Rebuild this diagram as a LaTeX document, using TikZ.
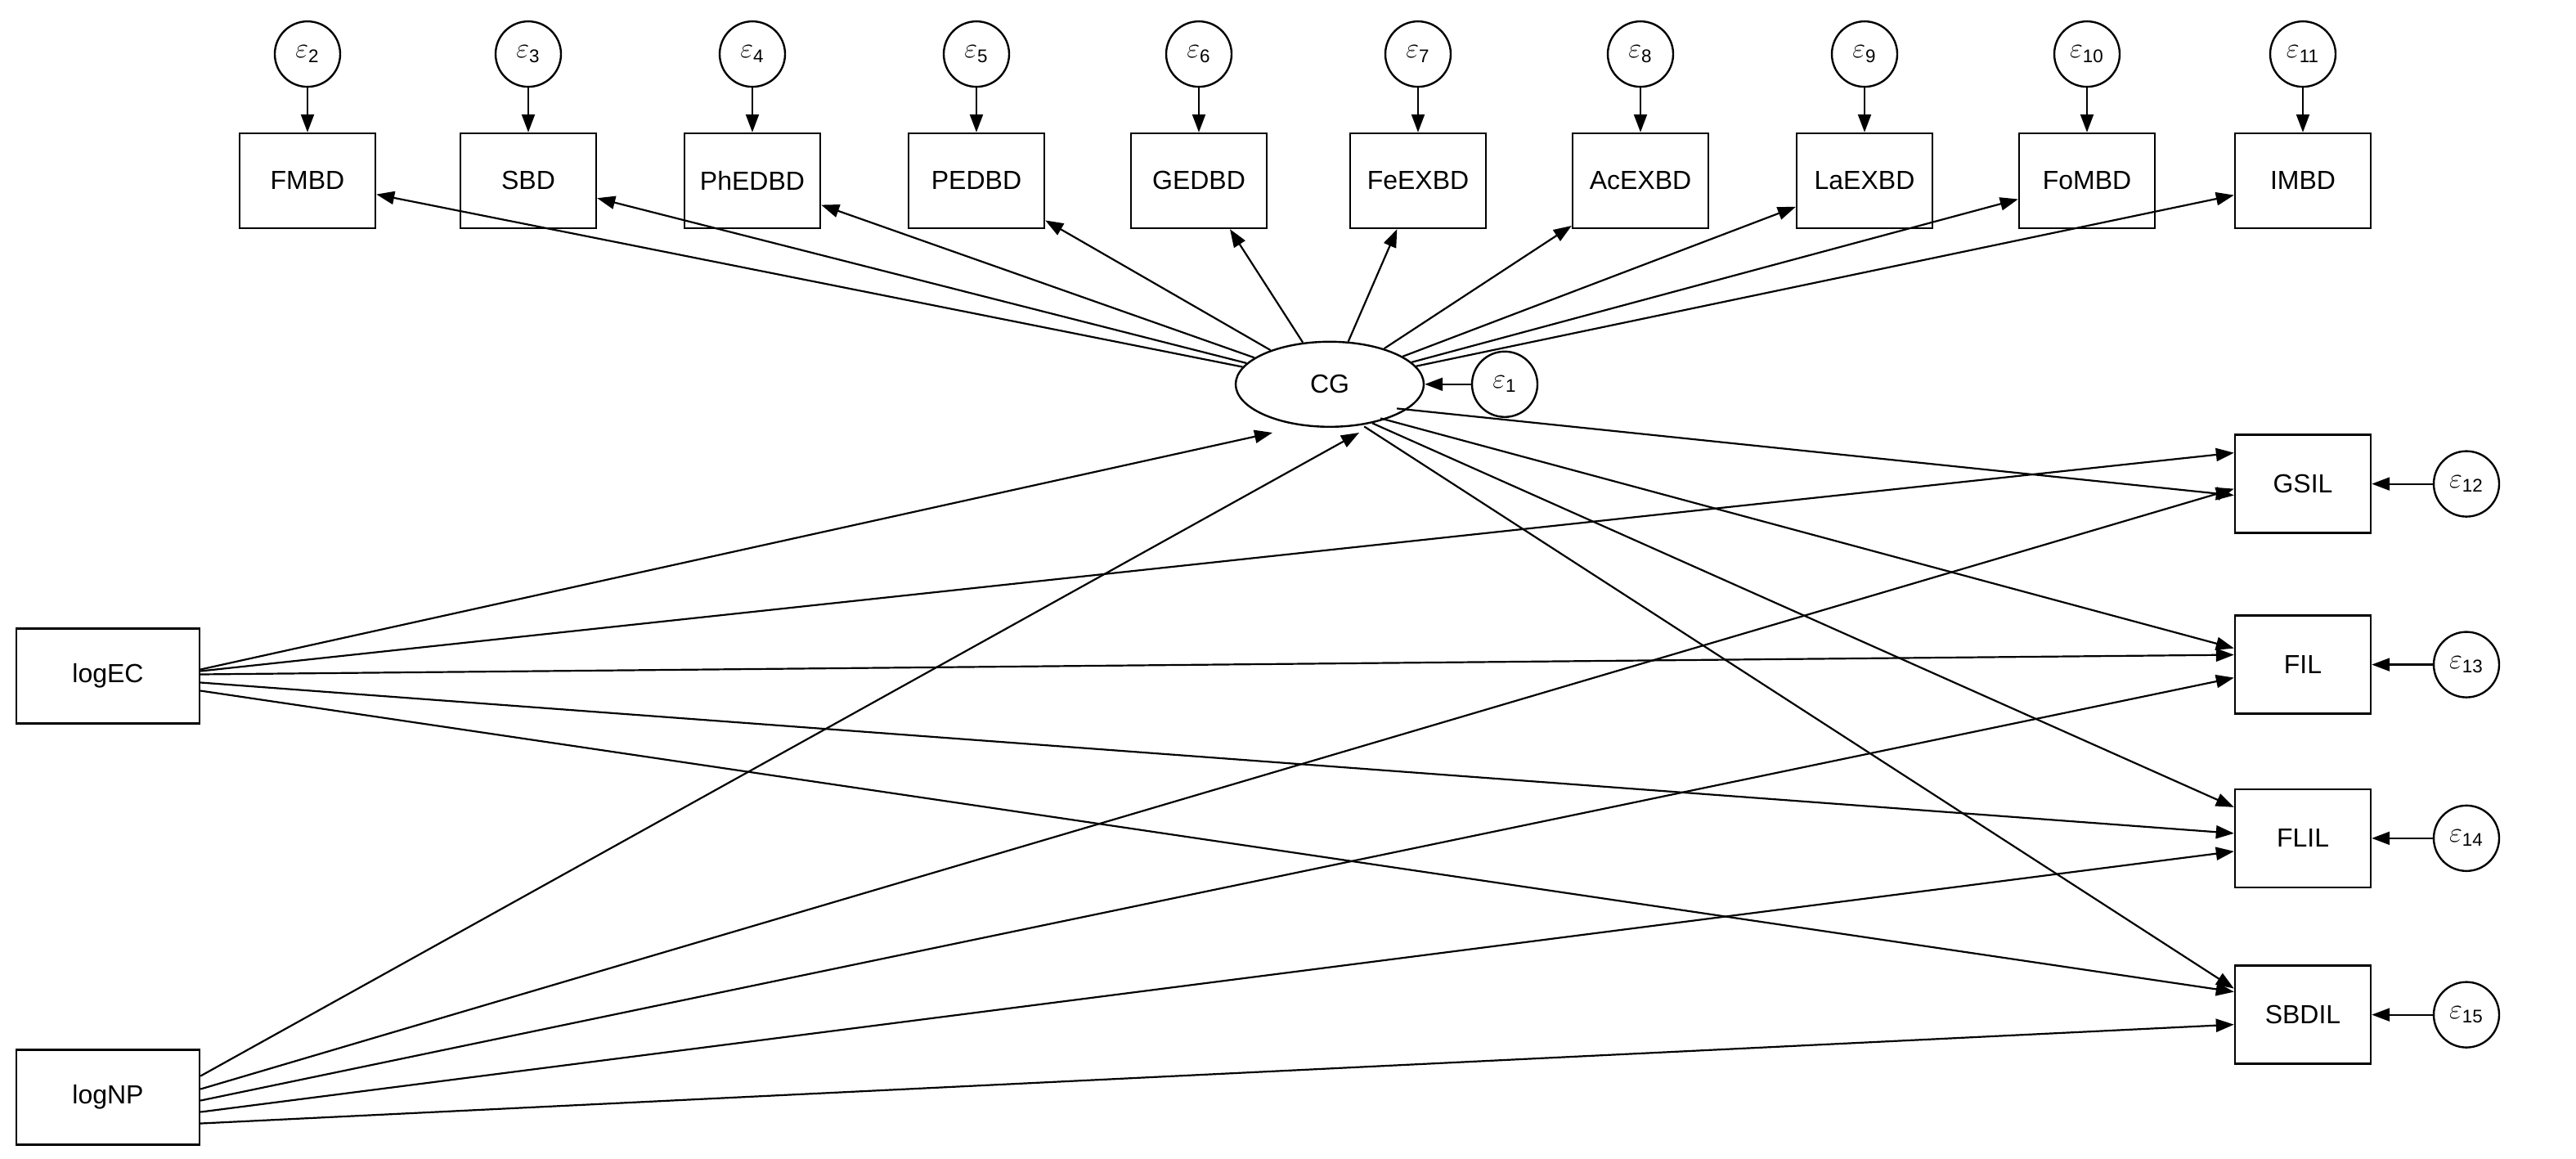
\documentclass[tikz,border=0pt]{standalone}
\usepackage{fontspec}
\setmainfont{Liberation Sans}
\usetikzlibrary{arrows.meta,shapes.geometric}
\begin{document}
\begin{tikzpicture}[x=1pt,y=-0.87pt,
 box/.style={draw,line width=1.2pt,minimum width=83pt,minimum height=58pt,font=\fontsize{16}{19}\selectfont,inner sep=0},
 err/.style={draw,circle,line width=1.2pt,minimum size=40pt,inner sep=0,font=\fontsize{16}{19}\selectfont},
 ar/.style={-{Triangle[length=11pt,width=8pt]},line width=1.1pt}]
\useasboundingbox (0,0) rectangle (1575,814);
\foreach \n/\x/\i in {FMBD/188/2,SBD/323/3,PhEDBD/460/4,PEDBD/597/5,GEDBD/733/6,FeEXBD/867/7,AcEXBD/1003/8,LaEXBD/1140/9,FoMBD/1276/10,IMBD/1408/11}{
 \node[box] (\n) at (\x,127) {\n};
 \node[err] (e\i) at (\x,38) {$\varepsilon$\textsubscript{\i}};
 \draw[ar] (e\i) -- (\n);
}
\node[draw,ellipse,line width=1.2pt,minimum width=115pt,minimum height=52pt,font=\fontsize{16}{19}\selectfont] (CG) at (813,270) {CG};
\node[err] (e1) at (920,270) {$\varepsilon$\textsubscript{1}};
\draw[ar] (e1) -- (CG);
\foreach \n/\y/\i in {GSIL/340/12,FIL/467/13,FLIL/589/14,SBDIL/713/15}{
 \node[box,minimum height=60pt] (\n) at (1408,\y) {\n};
 \node[err] (e\i) at (1508,\y) {$\varepsilon$\textsubscript{\i}};
 \draw[ar] (e\i) -- (\n);
}
\node[box,minimum width=112pt] (logEC) at (66,475) {logEC};
\node[box,minimum width=112pt] (logNP) at (66,771) {logNP};
\foreach \n in {FMBD,SBD,PhEDBD,PEDBD,GEDBD,FeEXBD,AcEXBD,LaEXBD,FoMBD,IMBD}{\draw[ar] (CG) -- (\n);}
% CG to right
\draw[ar] ([yshift=4pt]CG.south east) -- ([yshift=-7pt]GSIL.west);
\draw[ar] ([xshift=-10pt,yshift=-2pt]CG.south east) -- ([yshift=10pt]FIL.west);
\draw[ar] ([xshift=-15pt,yshift=-5pt]CG.south east) -- ([yshift=19pt]FLIL.west);
\draw[ar] ([xshift=-20pt,yshift=-7pt]CG.south east) -- ([yshift=16pt]SBDIL.west);
% logEC
\draw[ar] ([yshift=4pt]logEC.east) -- ([xshift=-35pt,yshift=-3pt]CG.south);
\draw[ar] ([yshift=3pt]logEC.east) -- ([yshift=19pt]GSIL.west);
\draw[ar] ([yshift=1pt]logEC.east) -- ([yshift=6pt]FIL.west);
\draw[ar] ([yshift=-4pt]logEC.east) -- ([yshift=3pt]FLIL.west);
\draw[ar] ([yshift=-9pt]logEC.east) -- ([yshift=14pt]SBDIL.west);
% logNP
\draw[ar] ([yshift=13pt]logNP.east) -- ([xshift=18pt,yshift=-3pt]CG.south);
\draw[ar] ([yshift=5pt]logNP.east) -- ([yshift=-3pt]GSIL.west);
\draw[ar] ([yshift=-2pt]logNP.east) -- ([yshift=-8pt]FIL.west);
\draw[ar] ([yshift=-9pt]logNP.east) -- ([yshift=-8pt]FLIL.west);
\draw[ar] ([yshift=-16pt]logNP.east) -- ([yshift=-6pt]SBDIL.west);
\end{tikzpicture}
\end{document}
